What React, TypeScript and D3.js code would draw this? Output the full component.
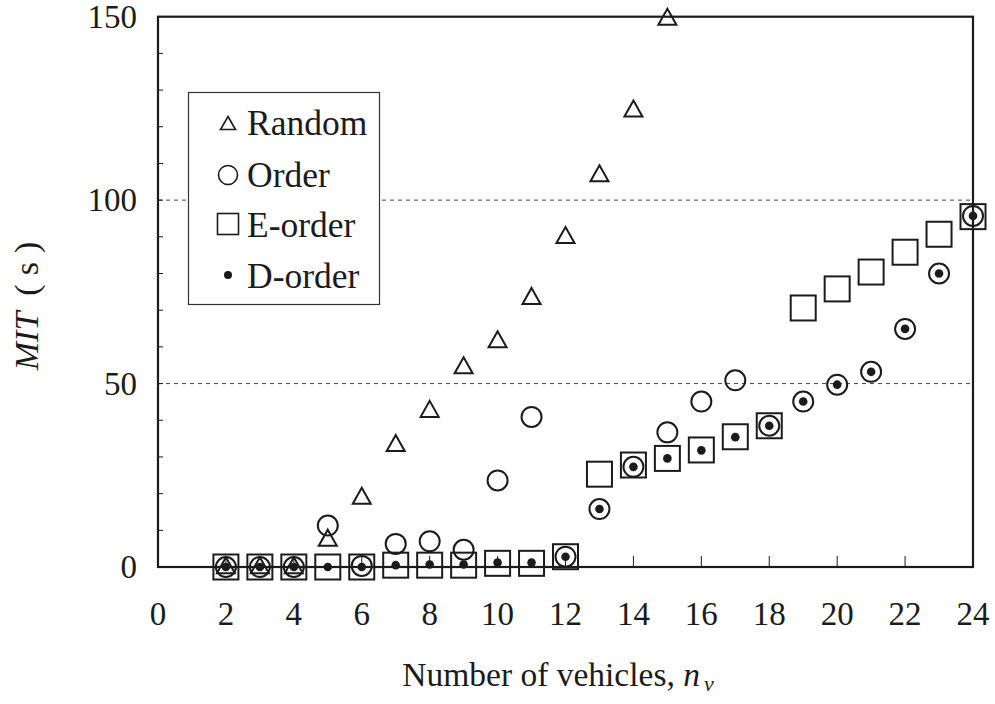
import { scaleLinear, range } from "d3";

// values (MIT in seconds)
const randomN = [2, 3, 4, 5, 6, 7, 8, 9, 10, 11, 12, 13, 14, 15];
const randomMIT = [0.5, 0.5, 0.5, 8.0, 19.4, 33.8, 43.1, 55.0, 62.1, 73.9, 90.5, 107.3, 125.0, 150.0];

const orderN = [2, 3, 4, 5, 6, 7, 8, 9, 10, 11, 12, 13, 14, 15, 16, 17, 18, 19, 20, 21, 22, 23, 24];
const orderMIT = [0, 0, 0, 11.3, 0.3, 6.3, 7.0, 4.7, 23.6, 40.9, 2.8, 15.8, 27.3, 36.7, 45.1, 50.9, 38.5, 45.1, 49.7, 53.2, 64.9, 80.0, 95.7];

const eOrderN = orderN;
const eOrderMIT = [0, 0, 0, 0, 0, 0.5, 0.5, 0.5, 1.0, 1.0, 2.8, 25.3, 27.8, 29.6, 31.9, 35.5, 38.5, 70.6, 75.8, 80.4, 85.8, 90.7, 95.5];

const dOrderN = orderN;
const dOrderMIT = [0, 0, 0, 0, 0, 0.5, 0.7, 0.7, 1.2, 1.2, 2.8, 15.8, 27.3, 29.6, 31.8, 35.4, 38.5, 45.1, 49.7, 53.2, 64.9, 80.0, 95.7];

const xTicks = [0, 2, 4, 6, 8, 10, 12, 14, 16, 18, 20, 22, 24];
const yTicks = [0, 50, 100, 150];
const gridValues = [50, 100];
const legendLabels = ["Random", "Order", "E-order", "D-order"];

const W = 995;
const H = 704;
const ink = "#1b1b1b";
const font = "'Liberation Serif', 'Times New Roman', serif";

function triPath(w: number, h: number) {
  return `M0,${-h / 2}L${w / 2},${h / 2}L${-w / 2},${h / 2}Z`;
}

function Marker({ kind, x, y, legend = false }: { kind: string; x: number; y: number; legend?: boolean }) {
  const sw = legend ? 1.6 : 2;
  if (kind === "Random")
    return <path d={legend ? triPath(15, 13) : triPath(18, 16)} transform={`translate(${x},${y})`} fill="none" stroke={ink} strokeWidth={sw} />;
  if (kind === "Order")
    return <circle cx={x} cy={y} r={legend ? 9.5 : 10} fill="none" stroke={ink} strokeWidth={sw} />;
  if (kind === "E-order") {
    const s = legend ? 21 : 25;
    return <rect x={x - s / 2} y={y - s / 2} width={s} height={s} fill="none" stroke={ink} strokeWidth={sw} />;
  }
  return <circle cx={x} cy={y} r={legend ? 4 : 4.3} fill={ink} />;
}

export default function App() {
  const x = scaleLinear().domain([0, 24]).range([158, 973]);
  const y = scaleLinear().domain([0, 150]).range([567, 16.7]);

  const series = [
    { kind: "Random", n: randomN, v: randomMIT },
    { kind: "Order", n: orderN, v: orderMIT },
    { kind: "E-order", n: eOrderN, v: eOrderMIT },
    { kind: "D-order", n: dOrderN, v: dOrderMIT },
  ];

  const minorY = range(10, 150, 10);
  const legendRows = [123, 175, 224, 275];
  const legendBase = [135, 187, 237, 288];

  return (
    <svg width={W} height={H} style={{ position: "absolute", left: 0, top: 0 }} fontFamily={font}>
      <rect width={W} height={H} fill="#fff" />

      {/* dashed grid */}
      {gridValues.map((g) => (
        <line key={g} x1={x(0)} x2={x(24)} y1={y(g)} y2={y(g)} stroke="#444" strokeWidth={1} strokeDasharray="4,4" />
      ))}

      {/* ticks */}
      {minorY.map((t) => (
        <line key={t} x1={x(0)} x2={x(0) + 5} y1={y(t)} y2={y(t)} stroke={ink} strokeWidth={1} />
      ))}
      {xTicks.slice(1, -1).map((t) => (
        <line key={t} x1={x(t)} x2={x(t)} y1={y(0)} y2={y(0) - 11} stroke={ink} strokeWidth={1} />
      ))}

      {/* legend */}
      <rect x={188.5} y={92.5} width={191} height={212} fill="#fff" stroke="#333" strokeWidth={1.2} />
      {legendLabels.map((l, i) => (
        <g key={l}>
          <Marker kind={l} x={228} y={legendRows[i]} legend />
          <text x={247} y={legendBase[i]} fontSize={35.5} fill={ink}>
            {l}
          </text>
        </g>
      ))}

      {/* markers */}
      {series.map((s) =>
        s.n.map((n, i) => <Marker key={s.kind + n} kind={s.kind} x={x(n)} y={y(s.v[i])} />)
      )}

      {/* frame */}
      <rect x={x(0)} y={y(150)} width={x(24) - x(0)} height={y(0) - y(150)} fill="none" stroke={ink} strokeWidth={2.2} />

      {/* tick labels */}
      {yTicks.map((t) => (
        <text key={t} x={x(0) - 21} y={y(t) + 11} textAnchor="end" fontSize={33} fill={ink}>
          {t}
        </text>
      ))}
      {xTicks.map((t) => (
        <text key={t} x={x(t)} y={625} textAnchor="middle" fontSize={33} fill={ink}>
          {t}
        </text>
      ))}

      {/* axis titles */}
      <text x={558} y={686} textAnchor="middle" fontSize={33.5} fill={ink}>
        Number of vehicles,{" "}
        <tspan fontStyle="italic">n</tspan>
        <tspan fontStyle="italic" fontSize={22} dx={4} dy={5}>
          v
        </tspan>
      </text>
      <text transform="translate(38,306) rotate(-90)" textAnchor="middle" fontSize={34} fill={ink}>
        <tspan fontStyle="italic">MIT</tspan>
        <tspan dx={16}>(</tspan>
        <tspan dx={9}>s</tspan>
        <tspan dx={9}>)</tspan>
      </text>
    </svg>
  );
}
